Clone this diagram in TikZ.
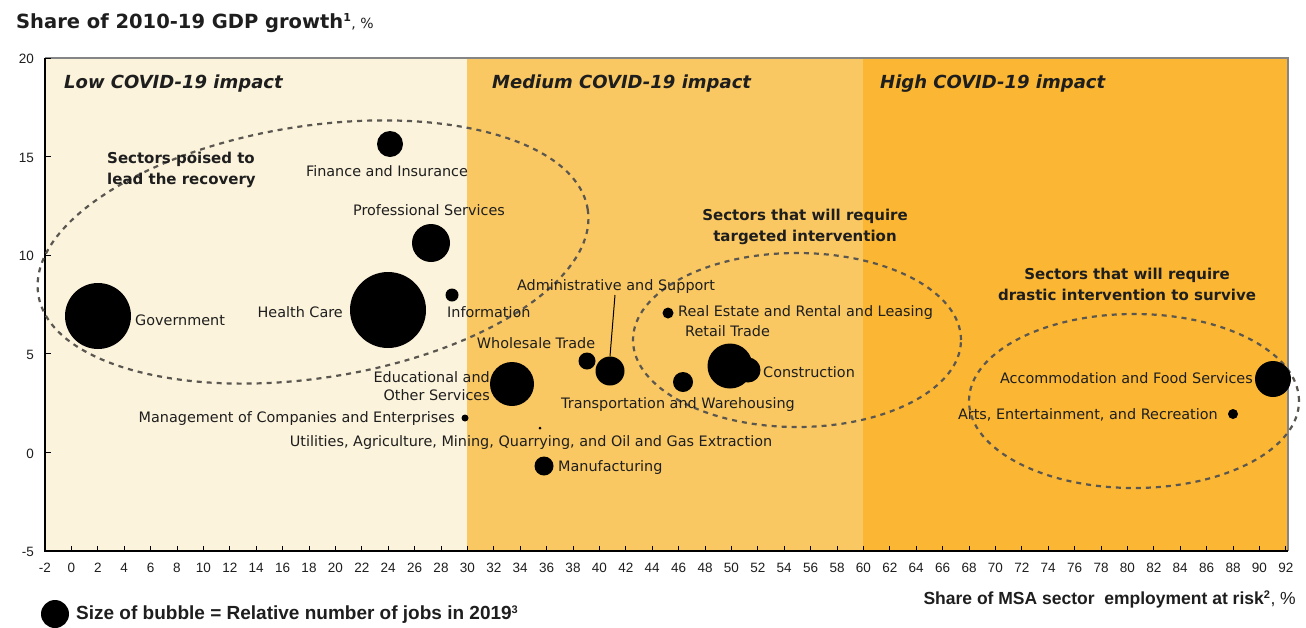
\documentclass[tikz,border=0pt]{standalone}
\usepackage{fontspec}
\setmainfont{Liberation Sans}
\newfontfamily\labfont{DejaVu Sans}
\definecolor{lowc}{HTML}{FBF3DB}
\definecolor{medc}{HTML}{FAC862}
\definecolor{highc}{HTML}{FBB734}
\definecolor{ovalc}{HTML}{5A5650}
\definecolor{framec}{HTML}{858585}
\definecolor{txtc}{HTML}{1E1E1E}
\tikzset{
  bub/.style={circle, fill=black, inner sep=0pt, minimum size=#1},
  lab/.style={font=\labfont\fontsize{14.4}{18}\selectfont, inner sep=0pt, text=txtc, yshift=-2pt},
  grp/.style={font=\labfont\bfseries\fontsize{15}{21}\selectfont, inner sep=0pt, text=txtc},
  reg/.style={font=\labfont\bfseries\itshape\fontsize{18}{20}\selectfont, anchor=mid west, inner sep=0pt, text=txtc},
  oval/.style={draw=ovalc, line width=2.2pt, dash pattern=on 5pt off 5pt},
  ticklab/.style={font=\fontsize{13.5}{14}\selectfont, inner sep=0pt, text=txtc, yshift=-3pt},
  axtitle/.style={font=\bfseries\fontsize{17.5}{18}\selectfont, inner sep=0pt, text=txtc}
}
\begin{document}
\begin{tikzpicture}[x=1pt,y=1pt]
\useasboundingbox (0,0) rectangle (1306,-627);
\fill[white] (0,0) rectangle (1306,-627);
% regions
\fill[lowc] (45,-58) rectangle (467,-551);
\fill[medc] (467,-58) rectangle (863,-551);
\fill[highc] (863,-58) rectangle (1288,-551);
% frame
\draw[framec, line width=1.2pt] (45,-58) -- (1288,-58) -- (1288,-551);
\draw[black, line width=1.2pt] (45,-58) -- (45,-551) -- (1288,-551);
% x ticks
\foreach \d in {-2,0,...,92} {
  \pgfmathsetmacro\xx{45+(\d+2)*13.2}
  \draw[black, line width=0.8pt] (\xx,-551) -- (\xx,-546);
}
\foreach \d in {-2,0,2,4,6,8,10,12,14,16,18,20,22,24,26,28,30,32,34,36,38,40,42,44,46,48,50,52,54,56,58,60,62,64,66,68,70,72,74,76,78,80,82,84,86,88,90,92} {
  \pgfmathsetmacro\xx{45+(\d+2)*13.2}
  \node[ticklab, anchor=mid] (xt\d) at (\xx,-567) {\d};
}
% y ticks
\foreach \v in {20,15,10,5,0,-5} {
  \pgfmathsetmacro\yy{-(58+(20-\v)*19.72)}
  \draw[black, line width=0.8pt] (45,\yy) -- (51,\yy);
  \node[ticklab, anchor=mid east] (yt\v) at (34,\yy) {\v};
}
% axis titles
\node[inner sep=0pt, text=txtc, anchor=mid west, font=\labfont\bfseries\fontsize{19.5}{20}\selectfont] (ytitle) at (16,-26) {Share of 2010-19 GDP growth\textsuperscript{\fontsize{11}{12}\selectfont 1}\mdseries\fontsize{14}{16}\selectfont, \%};
\node[axtitle, anchor=mid east] (xtitle) at (1296,-602) {Share of MSA sector\ \ employment at risk\textsuperscript{\fontsize{11}{12}\selectfont 2}\mdseries, \%};
% legend
\node[bub=28pt] (legb) at (55,-614) {};
\node[axtitle, anchor=mid west, font=\bfseries\fontsize{19}{20}\selectfont] (legt) at (76,-617) {Size of bubble = Relative number of jobs in 2019\textsuperscript{\fontsize{11}{12}\selectfont 3}};
% region titles
\node[reg] (rlow) at (64,-86) {Low COVID-19 impact};
\node[reg] (rmed) at (492,-86) {Medium COVID-19 impact};
\node[reg] (rhigh) at (880,-86) {High COVID-19 impact};
% ellipses
\draw[oval, rotate around={8.8:(313,-252)}] (313,-252) ellipse [x radius=278, y radius=126];
\draw[oval] (797,-340) ellipse [x radius=164, y radius=87];
\draw[oval] (1134,-401) ellipse [x radius=165, y radius=87];
% group titles
\node[grp, align=left, anchor=north west] (g1) at (107,-152) {Sectors poised to\\lead the recovery};
\node[grp, align=center, anchor=north] (g2) at (805,-209) {Sectors that will require\\targeted intervention};
\node[grp, align=center, anchor=north] (g3) at (1127,-268) {Sectors that will require\\drastic intervention to survive};
% bubbles
\node[bub=66pt] (gov) at (98,-316) {};
\node[bub=76pt] (health) at (388,-310) {};
\node[bub=26pt] (fin) at (390,-144) {};
\node[bub=38pt] (prof) at (431,-243) {};
\node[bub=13pt] (info) at (452,-295) {};
\node[bub=44pt] (edu) at (512,-384) {};
\node[bub=7pt] (mgmt) at (465,-418) {};
\node[bub=3pt] (util) at (540,-428) {};
\node[bub=19pt] (manu) at (544,-466) {};
\node[bub=17pt] (whole) at (587,-361) {};
\node[bub=29pt] (admin) at (610,-371) {};
\node[bub=11pt] (realest) at (668,-313) {};
\node[bub=20pt] (transp) at (683,-382) {};
\node[bub=45pt] (retail) at (730,-366) {};
\node[bub=25pt] (constr) at (748,-370) {};
\node[bub=36pt] (accom) at (1273,-379) {};
\node[bub=10pt] (arts) at (1233,-414) {};
% labels
\node[lab, anchor=mid] (lfin) at (387,-172) {Finance and Insurance};
\node[lab, anchor=mid] (lprof) at (429,-211) {Professional Services};
\node[lab, anchor=mid west] (lgov) at (135,-321) {Government};
\node[lab, anchor=mid east] (lhealth) at (343,-313) {Health Care};
\node[lab, anchor=mid west] (linfo) at (447,-313) {Information};
\node[lab, align=right, anchor=east] (ledu) at (490,-384) {Educational and\\Other Services};
\node[lab, anchor=mid east] (lmgmt) at (455,-418) {Management of Companies and Enterprises};
\node[lab, anchor=mid] (lutil) at (531,-442) {Utilities, Agriculture, Mining, Quarrying, and Oil and Gas Extraction};
\node[lab, anchor=mid west] (lmanu) at (558,-467) {Manufacturing};
\node[lab, anchor=mid] (lwhole) at (536,-344) {Wholesale Trade};
\node[lab, anchor=mid] (ladmin) at (616,-286) {Administrative and Support};
\node[lab, anchor=mid west] (lreal) at (678,-312) {Real Estate and Rental and Leasing};
\node[lab, anchor=mid west] (lretail) at (685,-332) {Retail Trade};
\node[lab, anchor=mid west] (lconstr) at (763,-373) {Construction};
\node[lab, anchor=mid] (ltransp) at (678,-404) {Transportation and Warehousing};
\node[lab, anchor=mid east] (laccom) at (1253,-379) {Accommodation and Food Services};
\node[lab, anchor=mid east] (larts) at (1218,-415) {Arts, Entertainment, and Recreation};
% leader line
\coordinate (adtop) at (615,-295);
\draw[black, line width=1pt] (adtop) -- (admin.north);
\end{tikzpicture}
\end{document}
